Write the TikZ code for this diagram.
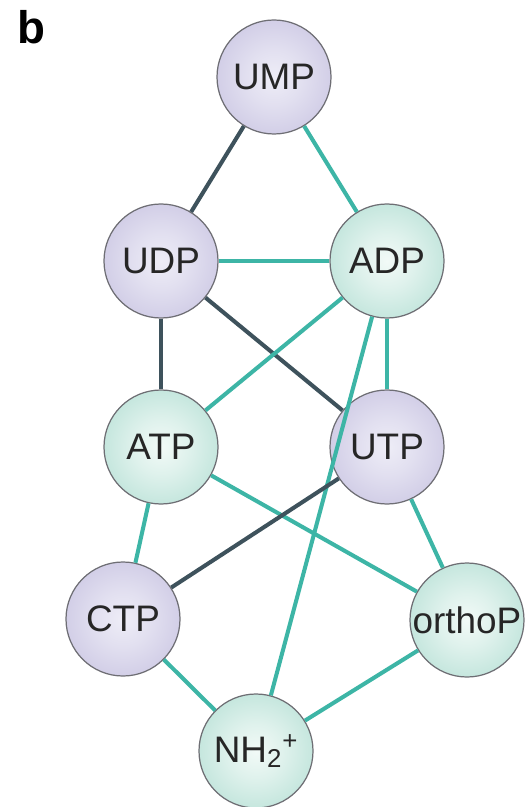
\documentclass[tikz,border=0pt]{standalone}
\usepackage{fontspec}
\setmainfont{Liberation Sans}
\definecolor{lilacIn}{HTML}{EEEDF7}
\definecolor{lilacOut}{HTML}{C6C1E0}
\definecolor{mintIn}{HTML}{F2FAF7}
\definecolor{mintOut}{HTML}{B2DED3}
\definecolor{tealEdge}{HTML}{3DB5A6}
\definecolor{slateEdge}{HTML}{3E525C}
\definecolor{rimGray}{HTML}{6E6E74}
\pgfdeclareradialshading{lilacball}{\pgfpointorigin}{color(0bp)=(lilacIn); color(12bp)=(lilacIn!70!lilacOut); color(35bp)=(lilacOut); color(50bp)=(lilacOut)}
\pgfdeclareradialshading{mintball}{\pgfpointorigin}{color(0bp)=(mintIn); color(12bp)=(mintIn!70!mintOut); color(35bp)=(mintOut); color(50bp)=(mintOut)}
\tikzset{
  mol/.style={circle, minimum size=114\unitlen, inner sep=0pt, draw=rimGray, line width=0.7pt,
    font=\fontsize{21}{24}\selectfont, text=black!85},
  pyr/.style={mol, shading=lilacball},
  pur/.style={mol, shading=mintball},
  tlink/.style={draw=tealEdge, line width=2.3pt},
  dlink/.style={draw=slateEdge, line width=2.3pt},
}
\newlength{\unitlen}
\setlength{\unitlen}{0.02cm}
\begin{document}
\begin{tikzpicture}[x=0.02cm, y=-0.02cm]
\useasboundingbox (0,0) rectangle (525,807);
\node[font=\fontsize{26}{28}\selectfont\bfseries, anchor=center] (lbl) at (31,27) {b};
% molecules
\node[pyr] (UMP) at (274,77) {UMP};
\node[pyr] (UDP) at (161,261) {UDP};
\node[pur] (ADP) at (387,261) {ADP};
\node[pur] (ATP) at (161,447) {ATP};
\node[pyr] (UTP) at (387,447) {UTP};
\node[pyr] (CTP) at (123,619) {CTP};
\node[pur] (orthoP) at (467,620) {orthoP};
\node[pur] (NH) at (256,751) {NH\textsubscript{2}\textsuperscript{+}};
% links
\draw[dlink] (UMP) -- (UDP);
\draw[tlink] (UMP) -- (ADP);
\draw[tlink] (UDP) -- (ADP);
\draw[dlink] (UDP) -- (ATP);
\draw[dlink] (UDP) -- (UTP);
\draw[tlink] (ADP) -- (ATP);
\draw[tlink] (ADP) -- (UTP);
\draw[tlink] (ADP) -- (NH);
\draw[tlink] (ATP) -- (CTP);
\draw[tlink] (ATP) -- (orthoP);
\draw[dlink] (UTP) -- (CTP);
\draw[tlink] (UTP) -- (orthoP);
\draw[tlink] (CTP) -- (NH);
\draw[tlink] (orthoP) -- (NH);
\end{tikzpicture}
\end{document}
